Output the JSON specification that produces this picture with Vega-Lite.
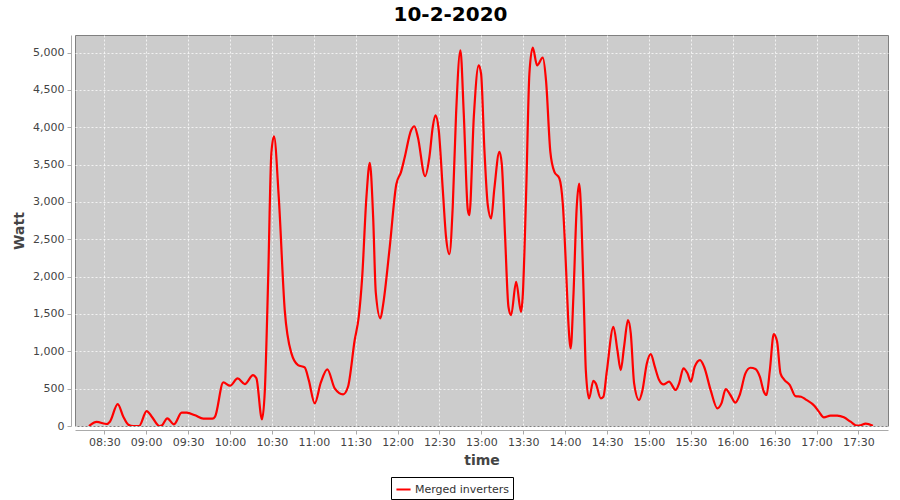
{
  "$schema": "https://vega.github.io/schema/vega-lite/v6.json",
  "width": 813,
  "height": 391,
  "autosize": {"type": "none"},
  "padding": {"left": 75, "top": 35, "right": 12, "bottom": 74},
  "background": "white",
  "title": {"text": "10-2-2020", "font": "DejaVu Sans", "fontSize": 20, "fontWeight": "bold", "color": "black", "anchor": "middle", "dx": -31, "offset": 10},
  "config": {
    "view": {"fill": "#cccccc", "stroke": "#808080", "strokeWidth": 1},
    "axis": {
      "labelFont": "DejaVu Sans", "labelFontSize": 11, "labelColor": "#444444",
      "titleFont": "DejaVu Sans", "titleFontSize": 14, "titleFontWeight": "bold", "titleColor": "#444444",
      "domainColor": "#aaaaaa", "tickColor": "#aaaaaa", "tickSize": 4,
      "gridColor": "#ffffff", "gridOpacity": 0.75, "gridDash": [2, 2], "gridWidth": 1
    }
  },
  "data": {"values": [
    {"time": "2020-02-10T08:19:00Z", "watt": 0},
    {"time": "2020-02-10T08:24:30Z", "watt": 54},
    {"time": "2020-02-10T08:31:42Z", "watt": 27},
    {"time": "2020-02-10T08:34:00Z", "watt": 58},
    {"time": "2020-02-10T08:39:36Z", "watt": 294},
    {"time": "2020-02-10T08:43:36Z", "watt": 125},
    {"time": "2020-02-10T08:47:12Z", "watt": 18},
    {"time": "2020-02-10T08:50:48Z", "watt": 0},
    {"time": "2020-02-10T08:54:54Z", "watt": 0},
    {"time": "2020-02-10T09:00:18Z", "watt": 200},
    {"time": "2020-02-10T09:04:00Z", "watt": 125},
    {"time": "2020-02-10T09:09:24Z", "watt": 0},
    {"time": "2020-02-10T09:11:00Z", "watt": 5},
    {"time": "2020-02-10T09:15:06Z", "watt": 103},
    {"time": "2020-02-10T09:19:54Z", "watt": 22},
    {"time": "2020-02-10T09:25:24Z", "watt": 178},
    {"time": "2020-02-10T09:29:00Z", "watt": 178},
    {"time": "2020-02-10T09:35:00Z", "watt": 143},
    {"time": "2020-02-10T09:40:54Z", "watt": 98},
    {"time": "2020-02-10T09:47:24Z", "watt": 98},
    {"time": "2020-02-10T09:49:18Z", "watt": 125},
    {"time": "2020-02-10T09:55:12Z", "watt": 584},
    {"time": "2020-02-10T10:00:00Z", "watt": 540},
    {"time": "2020-02-10T10:05:30Z", "watt": 638},
    {"time": "2020-02-10T10:10:36Z", "watt": 562},
    {"time": "2020-02-10T10:16:30Z", "watt": 682},
    {"time": "2020-02-10T10:18:54Z", "watt": 638},
    {"time": "2020-02-10T10:22:54Z", "watt": 89},
    {"time": "2020-02-10T10:24:54Z", "watt": 459},
    {"time": "2020-02-10T10:27:18Z", "watt": 1953},
    {"time": "2020-02-10T10:29:36Z", "watt": 3648},
    {"time": "2020-02-10T10:31:30Z", "watt": 3880},
    {"time": "2020-02-10T10:34:54Z", "watt": 3068},
    {"time": "2020-02-10T10:39:12Z", "watt": 1552},
    {"time": "2020-02-10T10:44:00Z", "watt": 972},
    {"time": "2020-02-10T10:48:42Z", "watt": 816},
    {"time": "2020-02-10T10:53:30Z", "watt": 785},
    {"time": "2020-02-10T10:56:24Z", "watt": 615},
    {"time": "2020-02-10T11:00:42Z", "watt": 303},
    {"time": "2020-02-10T11:05:00Z", "watt": 580},
    {"time": "2020-02-10T11:09:42Z", "watt": 758},
    {"time": "2020-02-10T11:15:00Z", "watt": 504},
    {"time": "2020-02-10T11:21:00Z", "watt": 424},
    {"time": "2020-02-10T11:24:30Z", "watt": 526},
    {"time": "2020-02-10T11:29:18Z", "watt": 1151},
    {"time": "2020-02-10T11:32:12Z", "watt": 1463},
    {"time": "2020-02-10T11:34:36Z", "watt": 1976},
    {"time": "2020-02-10T11:37:42Z", "watt": 3068},
    {"time": "2020-02-10T11:40:06Z", "watt": 3523},
    {"time": "2020-02-10T11:42:30Z", "watt": 2800},
    {"time": "2020-02-10T11:44:24Z", "watt": 1788},
    {"time": "2020-02-10T11:47:42Z", "watt": 1441},
    {"time": "2020-02-10T11:49:36Z", "watt": 1619},
    {"time": "2020-02-10T11:54:24Z", "watt": 2400},
    {"time": "2020-02-10T11:59:06Z", "watt": 3238},
    {"time": "2020-02-10T12:02:30Z", "watt": 3403},
    {"time": "2020-02-10T12:04:54Z", "watt": 3581},
    {"time": "2020-02-10T12:09:42Z", "watt": 3960},
    {"time": "2020-02-10T12:12:00Z", "watt": 4014},
    {"time": "2020-02-10T12:14:30Z", "watt": 3871},
    {"time": "2020-02-10T12:19:42Z", "watt": 3345},
    {"time": "2020-02-10T12:22:48Z", "watt": 3604},
    {"time": "2020-02-10T12:25:12Z", "watt": 4005},
    {"time": "2020-02-10T12:27:06Z", "watt": 4161},
    {"time": "2020-02-10T12:29:30Z", "watt": 3960},
    {"time": "2020-02-10T12:32:24Z", "watt": 3158},
    {"time": "2020-02-10T12:34:42Z", "watt": 2533},
    {"time": "2020-02-10T12:37:06Z", "watt": 2301},
    {"time": "2020-02-10T12:39:30Z", "watt": 2935},
    {"time": "2020-02-10T12:41:54Z", "watt": 4183},
    {"time": "2020-02-10T12:45:00Z", "watt": 5031},
    {"time": "2020-02-10T12:47:24Z", "watt": 4183},
    {"time": "2020-02-10T12:50:18Z", "watt": 2890},
    {"time": "2020-02-10T12:51:24Z", "watt": 2823},
    {"time": "2020-02-10T12:54:36Z", "watt": 4139},
    {"time": "2020-02-10T12:58:06Z", "watt": 4830},
    {"time": "2020-02-10T12:59:48Z", "watt": 4719},
    {"time": "2020-02-10T13:02:12Z", "watt": 3693},
    {"time": "2020-02-10T13:04:36Z", "watt": 2957},
    {"time": "2020-02-10T13:07:00Z", "watt": 2779},
    {"time": "2020-02-10T13:09:18Z", "watt": 3180},
    {"time": "2020-02-10T13:12:54Z", "watt": 3671},
    {"time": "2020-02-10T13:14:36Z", "watt": 3515},
    {"time": "2020-02-10T13:17:00Z", "watt": 2533},
    {"time": "2020-02-10T13:19:24Z", "watt": 1597},
    {"time": "2020-02-10T13:21:18Z", "watt": 1485},
    {"time": "2020-02-10T13:24:54Z", "watt": 1931},
    {"time": "2020-02-10T13:28:24Z", "watt": 1530},
    {"time": "2020-02-10T13:29:36Z", "watt": 1730},
    {"time": "2020-02-10T13:32:00Z", "watt": 3068},
    {"time": "2020-02-10T13:34:24Z", "watt": 4719},
    {"time": "2020-02-10T13:36:48Z", "watt": 5067},
    {"time": "2020-02-10T13:39:54Z", "watt": 4830},
    {"time": "2020-02-10T13:44:00Z", "watt": 4933},
    {"time": "2020-02-10T13:46:18Z", "watt": 4629},
    {"time": "2020-02-10T13:49:24Z", "watt": 3671},
    {"time": "2020-02-10T13:52:18Z", "watt": 3403},
    {"time": "2020-02-10T13:55:54Z", "watt": 3314},
    {"time": "2020-02-10T13:58:18Z", "watt": 2979},
    {"time": "2020-02-10T14:00:42Z", "watt": 2087},
    {"time": "2020-02-10T14:02:06Z", "watt": 1463},
    {"time": "2020-02-10T14:04:00Z", "watt": 1039},
    {"time": "2020-02-10T14:05:54Z", "watt": 1730},
    {"time": "2020-02-10T14:08:18Z", "watt": 2935},
    {"time": "2020-02-10T14:10:00Z", "watt": 3247},
    {"time": "2020-02-10T14:11:36Z", "watt": 2800},
    {"time": "2020-02-10T14:13:36Z", "watt": 1507},
    {"time": "2020-02-10T14:14:48Z", "watt": 749},
    {"time": "2020-02-10T14:17:06Z", "watt": 370},
    {"time": "2020-02-10T14:20:12Z", "watt": 606},
    {"time": "2020-02-10T14:21:54Z", "watt": 571},
    {"time": "2020-02-10T14:25:30Z", "watt": 370},
    {"time": "2020-02-10T14:27:24Z", "watt": 392},
    {"time": "2020-02-10T14:29:48Z", "watt": 727},
    {"time": "2020-02-10T14:34:36Z", "watt": 1329},
    {"time": "2020-02-10T14:37:24Z", "watt": 1017},
    {"time": "2020-02-10T14:39:48Z", "watt": 749},
    {"time": "2020-02-10T14:42:12Z", "watt": 1061},
    {"time": "2020-02-10T14:45:00Z", "watt": 1418},
    {"time": "2020-02-10T14:47:00Z", "watt": 1240},
    {"time": "2020-02-10T14:49:24Z", "watt": 571},
    {"time": "2020-02-10T14:52:54Z", "watt": 348},
    {"time": "2020-02-10T14:55:18Z", "watt": 473},
    {"time": "2020-02-10T14:58:30Z", "watt": 838},
    {"time": "2020-02-10T15:01:18Z", "watt": 963},
    {"time": "2020-02-10T15:04:12Z", "watt": 794},
    {"time": "2020-02-10T15:07:18Z", "watt": 615},
    {"time": "2020-02-10T15:10:24Z", "watt": 557},
    {"time": "2020-02-10T15:14:24Z", "watt": 593},
    {"time": "2020-02-10T15:19:12Z", "watt": 482},
    {"time": "2020-02-10T15:21:36Z", "watt": 571},
    {"time": "2020-02-10T15:24:42Z", "watt": 772},
    {"time": "2020-02-10T15:27:36Z", "watt": 705},
    {"time": "2020-02-10T15:30:00Z", "watt": 593},
    {"time": "2020-02-10T15:32:48Z", "watt": 794},
    {"time": "2020-02-10T15:36:36Z", "watt": 883},
    {"time": "2020-02-10T15:39:30Z", "watt": 794},
    {"time": "2020-02-10T15:44:18Z", "watt": 473},
    {"time": "2020-02-10T15:49:00Z", "watt": 236},
    {"time": "2020-02-10T15:51:54Z", "watt": 303},
    {"time": "2020-02-10T15:55:00Z", "watt": 495},
    {"time": "2020-02-10T15:58:18Z", "watt": 415},
    {"time": "2020-02-10T16:01:54Z", "watt": 312},
    {"time": "2020-02-10T16:05:00Z", "watt": 415},
    {"time": "2020-02-10T16:09:06Z", "watt": 705},
    {"time": "2020-02-10T16:12:42Z", "watt": 780},
    {"time": "2020-02-10T16:16:18Z", "watt": 763},
    {"time": "2020-02-10T16:19:24Z", "watt": 660},
    {"time": "2020-02-10T16:22:18Z", "watt": 459},
    {"time": "2020-02-10T16:24:12Z", "watt": 415},
    {"time": "2020-02-10T16:26:36Z", "watt": 749},
    {"time": "2020-02-10T16:29:24Z", "watt": 1231},
    {"time": "2020-02-10T16:31:48Z", "watt": 1128},
    {"time": "2020-02-10T16:34:12Z", "watt": 705},
    {"time": "2020-02-10T16:37:06Z", "watt": 615},
    {"time": "2020-02-10T16:40:54Z", "watt": 549},
    {"time": "2020-02-10T16:44:54Z", "watt": 401},
    {"time": "2020-02-10T16:49:00Z", "watt": 392},
    {"time": "2020-02-10T16:52:06Z", "watt": 357},
    {"time": "2020-02-10T16:58:36Z", "watt": 268},
    {"time": "2020-02-10T17:01:42Z", "watt": 192},
    {"time": "2020-02-10T17:05:18Z", "watt": 116},
    {"time": "2020-02-10T17:10:00Z", "watt": 138},
    {"time": "2020-02-10T17:14:48Z", "watt": 138},
    {"time": "2020-02-10T17:19:36Z", "watt": 116},
    {"time": "2020-02-10T17:24:24Z", "watt": 58},
    {"time": "2020-02-10T17:29:06Z", "watt": 4},
    {"time": "2020-02-10T17:31:30Z", "watt": 9},
    {"time": "2020-02-10T17:35:06Z", "watt": 31},
    {"time": "2020-02-10T17:40:24Z", "watt": 4}
  ]},
  "mark": {"type": "line", "strokeWidth": 2.2, "interpolate": "monotone", "clip": true},
  "encoding": {
    "x": {
      "field": "time", "type": "temporal",
      "scale": {"type": "utc", "domain": [1581322140000, 1581357072000]},
      "axis": {
        "title": "time",
        "values": [1581323400000, 1581325200000, 1581327000000, 1581328800000, 1581330600000, 1581332400000, 1581334200000, 1581336000000, 1581337800000, 1581339600000, 1581341400000, 1581343200000, 1581345000000, 1581346800000, 1581348600000, 1581350400000, 1581352200000, 1581354000000, 1581355800000],
        "labelExpr": "utcFormat(datum.value, '%H:%M')",
        "offset": 4, "labelPadding": 2, "titlePadding": 6, "labelFlush": false, "labelOverlap": false
      }
    },
    "y": {
      "field": "watt", "type": "quantitative",
      "scale": {"domain": [0, 5236], "nice": false},
      "axis": {"title": "Watt", "values": [0, 500, 1000, 1500, 2000, 2500, 3000, 3500, 4000, 4500, 5000], "format": ",d", "offset": 4, "labelPadding": 3, "titlePadding": 6}
    },
    "color": {
      "datum": "Merged inverters",
      "scale": {"range": ["#ff0000"]},
      "legend": {"title": null, "orient": "none", "legendX": 316, "legendY": 442, "strokeColor": "black", "fillColor": "white", "padding": 4, "cornerRadius": 0, "symbolType": "stroke", "symbolStrokeWidth": 2, "symbolSize": 200, "labelFont": "DejaVu Sans", "labelFontSize": 11, "labelColor": "#333333", "labelOffset": 3}
    }
  }
}
